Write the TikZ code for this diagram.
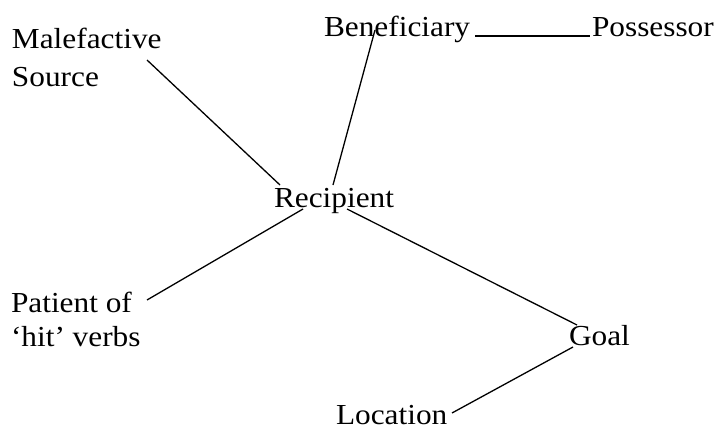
\documentclass[tikz,border=0pt]{standalone}
\usepackage{fontspec}
\setmainfont[FakeStretch=1.08]{Liberation Serif}
\begin{document}
\begin{tikzpicture}[x=1pt,y=-1pt,
  lbl/.style={inner sep=0pt,outer sep=0pt,anchor=base west,font=\fontsize{29}{36}\selectfont},
  link/.style={line width=1.3pt,black}]
\useasboundingbox (0,0) rectangle (723,428);
\node[lbl] (mal) at (12,49) {\begin{tabular}[t]{@{}l@{}}Malefactive\\[1pt]Source\end{tabular}};
\node[lbl] (ben) at (324,37) {Beneficiary};
\node[lbl] (pos) at (592,37) {Possessor};
\node[lbl] (rec) at (274,207) {Recipient};
\node[lbl] (pat) at (11,312) {\begin{tabular}[t]{@{}l@{}}Patient of\\[-2pt]‘hit’ verbs\end{tabular}};
\node[lbl] (goal) at (569,345) {Goal};
\node[lbl] (loc) at (336,424) {Location};
\draw[link] ([shift={(135,11)}]mal.base west) -- ([shift={(6,-22)}]rec.base west);
\draw[link] ([shift={(51,-7)}]ben.base west) -- ([shift={(59,-22)}]rec.base west);
\draw[link] ([shift={(151,-1)}]ben.base west) -- ([shift={(-2,-1)}]pos.base west);
\draw[link] ([shift={(136,-12)}]pat.base west) -- ([shift={(29,2)}]rec.base west);
\draw[link] ([shift={(73,2)}]rec.base west) -- ([shift={(8,-20)}]goal.base west);
\draw[link] ([shift={(4,2)}]goal.base west) -- ([shift={(116,-11)}]loc.base west);
\end{tikzpicture}
\end{document}
